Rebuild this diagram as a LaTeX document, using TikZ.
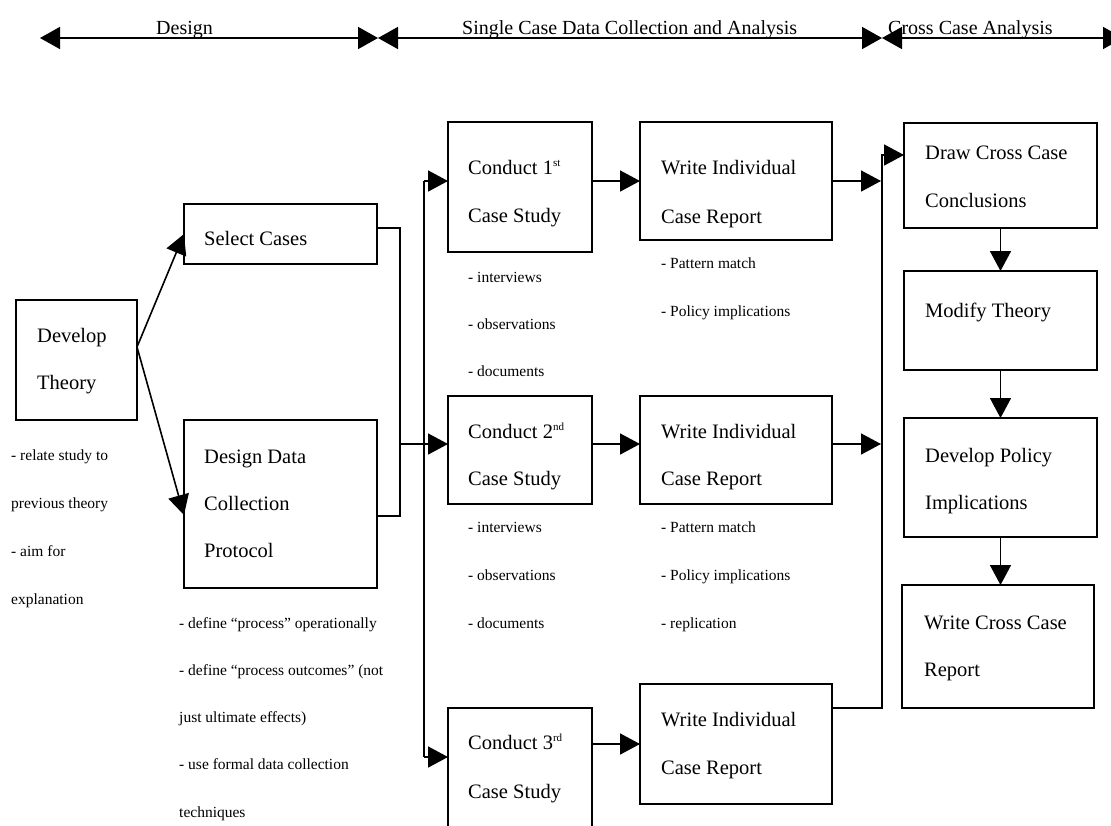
\documentclass[tikz,border=0pt]{standalone}
\usepackage{fontspec}
\setmainfont{Liberation Serif}
\usetikzlibrary{arrows.meta}
% small raised ordinal suffix (1st, 2nd, 3rd)
\newcommand\ordsup[1]{\raisebox{7.5pt}{\fontsize{11}{11}\selectfont #1}}
\begin{document}
\begin{tikzpicture}[x=1pt,y=-1pt,
  box/.style={draw, line width=1.6pt, anchor=north west, inner sep=0pt, outer sep=0pt},
  conn/.style={line width=1.6pt},
  arr/.style={line width=1.6pt, -{Triangle[length=20pt,width=21pt]}},
  span/.style={line width=1.6pt, {Triangle[length=20pt,width=22pt]}-{Triangle[length=20pt,width=22pt]}},
  head/.style={anchor=base west, inner sep=0pt, font=\fontsize{20}{24}\selectfont},
  btxt/.style={anchor=base west, inner sep=0pt, font=\fontsize{20.5}{24}\selectfont},
  note/.style={anchor=base west, inner sep=0pt, font=\fontsize{15.5}{18}\selectfont},
]
\useasboundingbox (0,0) rectangle (1111,825);
\clip (0,0) rectangle (1111,825);

% ---- phase headings ----
\coordinate (h0) at (40,38);
\coordinate (h1) at (378,38);
\coordinate (h2) at (882,38);
\coordinate (h3) at (1123,38);
\draw[span] (h0) -- (h1);
\draw[span] (h1) -- (h2);
\draw[span] (h2) -- (h3);
\node[head] (hd1) at (156,34) {Design};
\node[head] (hd2) at (462,34) {Single Case Data Collection and Analysis};
\node[head] (hd3) at (888,34) {Cross Case Analysis};

% ---- boxes ----
\node[box, minimum width=121pt, minimum height=120pt] (dev) at (16,300) {};
\node[box, minimum width=193pt, minimum height=60pt]  (sel) at (184,204) {};
\node[box, minimum width=193pt, minimum height=168pt] (ddc) at (184,420) {};
\node[box, minimum width=144pt, minimum height=130pt] (c1)  at (448,122) {};
\node[box, minimum width=192pt, minimum height=118pt] (w1)  at (640,122) {};
\node[box, minimum width=144pt, minimum height=108pt] (c2)  at (448,396) {};
\node[box, minimum width=192pt, minimum height=108pt] (w2)  at (640,396) {};
\node[box, minimum width=144pt, minimum height=140pt] (c3)  at (448,708) {};
\node[box, minimum width=192pt, minimum height=120pt] (w3)  at (640,684) {};
\node[box, minimum width=193pt, minimum height=105pt] (dcc) at (904,123) {};
\node[box, minimum width=193pt, minimum height=99pt]  (mod) at (904,271) {};
\node[box, minimum width=193pt, minimum height=119pt] (dpi) at (904,418) {};
\node[box, minimum width=192pt, minimum height=123pt] (wcc) at (902,585) {};

% ---- box captions ----
\node[btxt] (tdev1) at (37,342) {Develop};
\node[btxt] (tdev2) at (37,389) {Theory};
\node[btxt] (tsel)  at (204,245) {Select Cases};
\node[btxt] (tddc1) at (204,463) {Design Data};
\node[btxt] (tddc2) at (204,510) {Collection};
\node[btxt] (tddc3) at (204,557) {Protocol};
\node[btxt] (tc11) at (468,174) {Conduct 1\ordsup{st}};
\node[btxt] (tc12) at (468,222) {Case Study};
\node[btxt] (tw11) at (661,174) {Write Individual};
\node[btxt] (tw12) at (661,223) {Case Report};
\node[btxt] (tc21) at (468,438) {Conduct 2\ordsup{nd}};
\node[btxt] (tc22) at (468,485) {Case Study};
\node[btxt] (tw21) at (661,438) {Write Individual};
\node[btxt] (tw22) at (661,485) {Case Report};
\node[btxt] (tc31) at (468,749) {Conduct 3\ordsup{rd}};
\node[btxt] (tc32) at (468,798) {Case Study};
\node[btxt] (tw31) at (661,726) {Write Individual};
\node[btxt] (tw32) at (661,774) {Case Report};
\node[btxt] (tdcc1) at (925,159) {Draw Cross Case};
\node[btxt] (tdcc2) at (925,207) {Conclusions};
\node[btxt] (tmod)  at (925,317) {Modify Theory};
\node[btxt] (tdpi1) at (925,462) {Develop Policy};
\node[btxt] (tdpi2) at (925,509) {Implications};
\node[btxt] (twcc1) at (924,629) {Write Cross Case};
\node[btxt] (twcc2) at (924,676) {Report};

% ---- notes under the boxes ----
\foreach \t [count=\i] in {- relate study to, previous theory, - aim for, explanation}
  \node[note] (ndev\i) at (11,{460+48*(\i-1)}) {\t};
\foreach \t [count=\i] in {- define “process” operationally, - define “process outcomes” (not,
    just ultimate effects), - use formal data collection, techniques}
  \node[note] (nddc\i) at (179,{628+47.3*(\i-1)}) {\t};
\foreach \t [count=\i] in {- interviews, - observations, - documents}
  \node[note] (nc1\i) at (468,{282+47.3*(\i-1)}) {\t};
\foreach \t [count=\i] in {- Pattern match, - Policy implications}
  \node[note] (nw1\i) at (661,{268+48*(\i-1)}) {\t};
\foreach \t [count=\i] in {- interviews, - observations, - documents}
  \node[note] (nc2\i) at (468,{532+48*(\i-1)}) {\t};
\foreach \t [count=\i] in {- Pattern match, - Policy implications, - replication}
  \node[note] (nw2\i) at (661,{532+48*(\i-1)}) {\t};

% ---- design stage connectors ----
\draw[arr] ([yshift=13pt]dev.east) -- (sel.west);
\draw[arr] ([yshift=13pt]dev.east) -- ([yshift=-11pt]ddc.west);
\draw[conn] ([yshift=6pt]sel.east) -- ++(23,0) |- ([yshift=-12pt]ddc.east);

% ---- distribution to the single cases ----
\coordinate (bm)  at (400,444);
\coordinate (sp1) at (424,181);
\coordinate (sp3) at (424,757);
\draw[conn] (sp1) -- (sp3);
\draw[arr] (sp1) -- (sp1 -| c1.west);
\draw[arr] (bm) -- (bm -| c2.west);
\draw[arr] (sp3) -- (sp3 -| c3.west);

% ---- case study to individual report ----
\draw[arr] (sp1 -| c1.east) -- (sp1 -| w1.west);
\draw[arr] (bm -| c2.east) -- (bm -| w2.west);
\draw[arr] ([yshift=34pt]c3.east) -- ([yshift=34pt]c3.east -| w3.west);

% ---- collection into cross case analysis ----
\coordinate (rtop) at (882,155);
\coordinate (rbot) at (882,708);
\draw[arr] (sp1 -| w1.east) -- ([xshift=-1pt]sp1 -| rtop);
\draw[arr] (bm -| w2.east) -- ([xshift=-1pt]bm -| rtop);
\draw[arr] (rbot -| w3.east) -- (rbot) -- (rtop) -- (rtop -| dcc.west);

% ---- cross case chain ----
\draw[arr] (dcc.south) -- (mod.north);
\draw[arr] (mod.south) -- (dpi.north);
\draw[arr] (dpi.south) -- (dpi.south |- wcc.north);
\end{tikzpicture}
\end{document}
